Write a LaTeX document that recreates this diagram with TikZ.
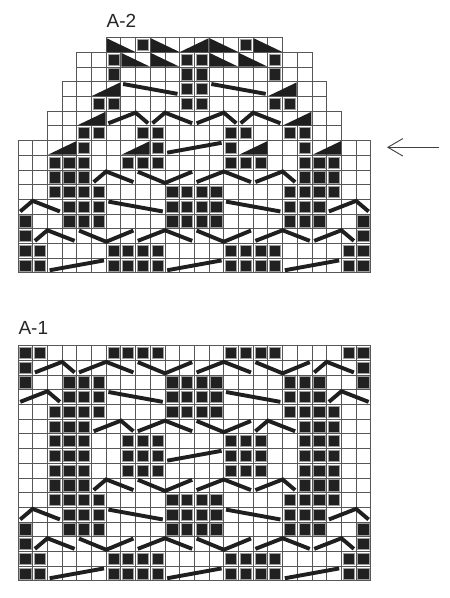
\documentclass[tikz,border=0pt]{standalone}
\usepackage{fontspec}
\setmainfont{Liberation Sans}
\usetikzlibrary{arrows.meta}
\tikzset{
  gridln/.style={draw=black!66, line width=1pt, line cap=rect},
  blk/.style={fill=black!87, draw=black!38, line width=0.8pt},
  cab/.style={draw=black!88, line width=3.9pt, line cap=butt, line join=miter},
  tria/.style={fill=black!88},
  lbl/.style={font=\fontsize{19}{22}\selectfont, inner sep=0pt, text=black!85},
  arrst/.style={draw=black!75, line width=0.9pt, -{Straight Barb[length=15pt,width=17.5pt]}},
}
\newcommand\kSq[2]{\path[blk] (#1+0.12,#2+0.12) rectangle (#1+0.88,#2+0.88);}
\newcommand\kSqs[2]{\foreach \c in {#2} {\kSq{\c}{#1}}}
\newcommand\kUp[4]{\draw[cab] (#2+0.15,#1+0.82) -- (#3,#1+0.1) -- (#4+0.85,#1+0.82);}
\newcommand\kDn[4]{\draw[cab] (#2+0.15,#1+0.12) -- (#3,#1+0.88) -- (#4+0.85,#1+0.12);}
\newcommand\kFall[3]{\draw[cab] (#2+0.15,#1+0.15) -- (#3+0.85,#1+0.82);}
\newcommand\kRise[3]{\draw[cab] (#2+0.15,#1+0.82) -- (#3+0.85,#1+0.15);}
\newcommand\kTriR[2]{\fill[tria] (#2+0.04,#1+0.96) -- (#2+1.96,#1+0.96) -- (#2+1.96,#1+0.04) -- cycle;}
\newcommand\kTriL[2]{\fill[tria] (#2+0.04,#1+0.04) -- (#2+0.04,#1+0.96) -- (#2+1.96,#1+0.96) -- cycle;}
\newcommand\kBand[3]{%
  \foreach \c in {#2,...,#3} {\draw[gridln] (\c,#1) -- (\c,#1+1);}
  \draw[gridln] (#2,#1) -- (#3,#1) (#2,#1+1) -- (#3,#1+1);}
\newcommand\kLower{%
  \kSqs{8}{2,3,4,7,8,9,14,15,16,19,20,21}
  \kSqs{9}{2,3,4,19,20,21} \kUp{9}{5}{6}{7} \kDn{9}{8}{10}{11} \kUp{9}{12}{14}{15} \kUp{9}{16}{18}{18}
  \kSqs{10}{2,3,4,5,10,11,12,13,18,19,20,21}
  \kUp{11}{0}{1}{2} \kSqs{11}{3,4,5,10,11,12,13,18,19,20} \kFall{11}{6}{9} \kFall{11}{14}{17} \kUp{11}{21}{23}{23}
  \kSqs{12}{0,3,4,5,10,11,12,13,18,19,20,23}
  \kSqs{13}{0,23} \kUp{13}{1}{2}{3} \kDn{13}{4}{6}{7} \kUp{13}{8}{10}{11} \kDn{13}{12}{14}{15} \kUp{13}{16}{18}{19} \kUp{13}{20}{22}{22}
  \kSqs{14}{0,1,6,7,8,9,14,15,16,17,22,23}
  \kSqs{15}{0,1,6,7,8,9,14,15,16,17,22,23} \kRise{15}{2}{5} \kRise{15}{10}{13} \kRise{15}{18}{21}
}
\begin{document}
\begin{tikzpicture}[x=14.7pt, y=-14.7pt]
\useasboundingbox (0pt,0pt) rectangle (450pt,-598pt);
\fill[white] (0pt,0pt) rectangle (450pt,-598pt);

\node[lbl] (lA2) at (121.5pt,-20.5pt) {A-2};
\node[lbl] (lA1) at (33.3pt,-327.5pt) {A-1};

\coordinate (arrS) at (438.5pt,-147.3pt);
\coordinate (arrE) at (387pt,-147.3pt);
\draw[arrst] (arrS) -- (arrE);

% ---------------- A-2 ----------------
\begin{scope}[shift={(18pt,-37.7pt)}]
  \kBand{0}{6}{18}
  \kBand{1}{4}{20} \kBand{2}{4}{20}
  \kBand{3}{3}{21} \kBand{4}{3}{21}
  \kBand{5}{2}{22} \kBand{6}{2}{22}
  \foreach \r in {7,...,15} {\kBand{\r}{0}{24}}
  \kTriL{0}{6} \kSqs{0}{8,15} \kTriL{0}{9} \kTriR{0}{11} \kTriL{0}{13} \kTriL{0}{16}
  \kSqs{1}{6,11,12,17} \kTriL{1}{7} \kTriL{1}{9} \kTriL{1}{13} \kTriL{1}{15}
  \kSqs{2}{6,11,12,17}
  \kTriR{3}{5} \kFall{3}{7}{10} \kSqs{3}{11,12} \kFall{3}{13}{16} \kTriR{3}{17}
  \kSqs{4}{5,6,11,12,17,18}
  \kTriR{5}{4} \kUp{5}{6}{8}{8} \kUp{5}{9}{10}{11} \kUp{5}{12}{14}{14} \kUp{5}{15}{16}{17} \kTriR{5}{18}
  \kSqs{6}{4,5,8,9,14,15,18,19}
  \kTriR{7}{2} \kSqs{7}{4,9,14,19} \kTriR{7}{7} \kRise{7}{10}{13} \kTriR{7}{15} \kTriR{7}{20}
  \kLower
\end{scope}

% ---------------- A-1 ----------------
\begin{scope}[shift={(18pt,-345.7pt)}]
  \foreach \r in {0,...,15} {\kBand{\r}{0}{24}}
  \kSqs{0}{0,1,6,7,8,9,14,15,16,17,22,23}
  \kSqs{1}{0,23} \kUp{1}{1}{3}{3} \kUp{1}{4}{6}{7} \kDn{1}{8}{10}{11} \kUp{1}{12}{14}{15} \kDn{1}{16}{18}{19} \kUp{1}{20}{21}{22}
  \kSqs{2}{0,3,4,5,10,11,12,13,18,19,20,23}
  \kUp{3}{0}{2}{2} \kSqs{3}{3,4,5,10,11,12,13,18,19,20} \kFall{3}{6}{9} \kFall{3}{14}{17} \kUp{3}{21}{22}{23}
  \kSqs{4}{2,3,4,5,10,11,12,13,18,19,20,21}
  \kSqs{5}{2,3,4,19,20,21} \kUp{5}{5}{7}{7} \kUp{5}{8}{10}{11} \kDn{5}{12}{14}{15} \kUp{5}{16}{17}{18}
  \kSqs{6}{2,3,4,7,8,9,14,15,16,19,20,21}
  \kSqs{7}{2,3,4,7,8,9,14,15,16,19,20,21} \kRise{7}{10}{13}
  \kLower
\end{scope}
\end{tikzpicture}
\end{document}
